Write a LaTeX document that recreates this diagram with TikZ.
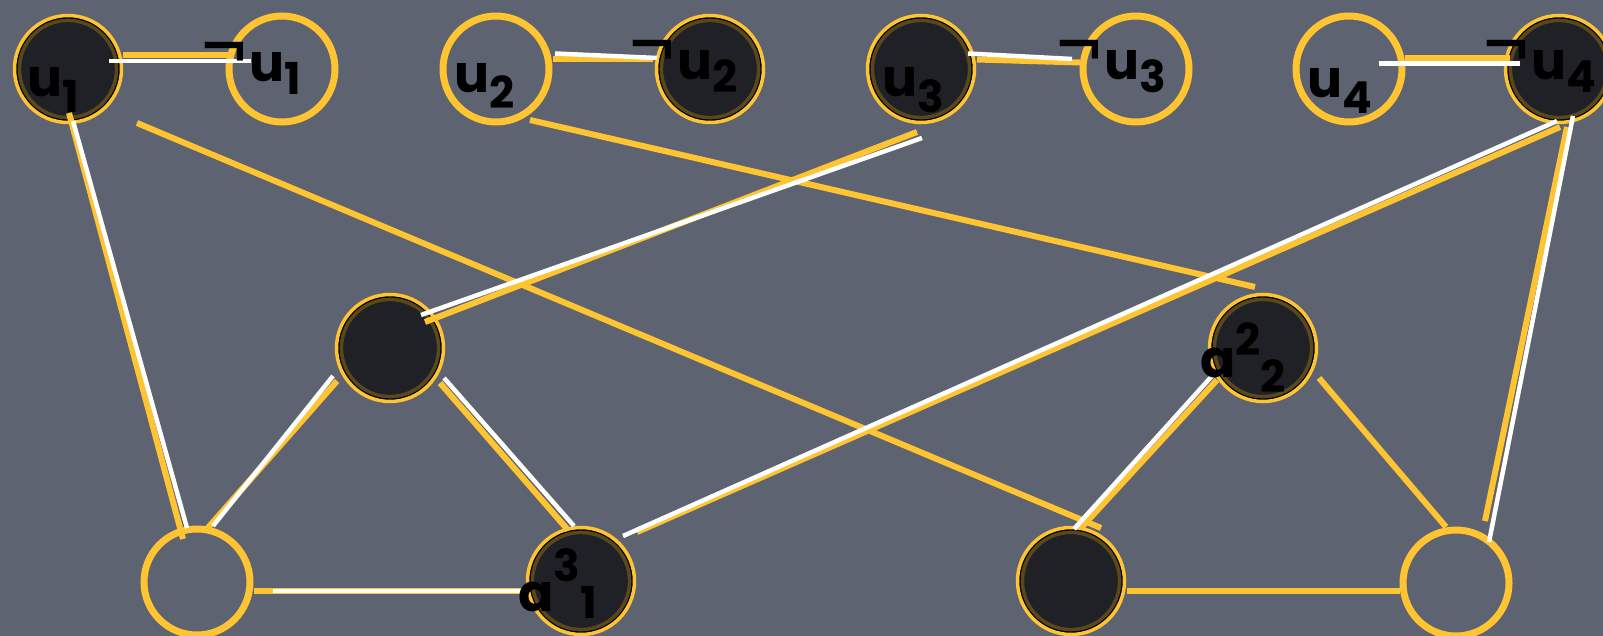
\documentclass[tikz,border=0pt]{standalone}
\usepackage{fontspec}
\setmainfont{Poppins}
\usepackage{tikz}
\usetikzlibrary{calc}
\definecolor{ngSlate}{RGB}{94,99,113}
\definecolor{ngYellow}{RGB}{254,196,50}
\definecolor{ngInk}{RGB}{32,33,38}
\definecolor{ngOlive}{RGB}{88,72,28}
\newcommand{\idxlo}[2][-16pt]{\raisebox{#1}{\fontsize{44}{44}\selectfont #2}}
\newcommand{\idxhi}[2][26pt]{\raisebox{#1}{\fontsize{44}{44}\selectfont #2}}
\newcommand{\negsym}{\raisebox{1pt}{\mdseries\scalebox{1.3}[1.7]{¬}}\kern3pt}

\begin{document}
\begin{tikzpicture}[
    x=1pt, y=-1pt,
    hollow/.style={circle, minimum size=106pt, inner sep=0pt,
                   draw=ngYellow, line width=7pt},
    dark/.style={circle, minimum size=107pt, inner sep=0pt,
                 draw=ngYellow, line width=3.5pt, fill=ngInk,
                 path picture={
                   \draw[black, line width=2pt] (path picture bounding box.center) circle (51.3pt);
                   \draw[ngOlive, line width=3.5pt] (path picture bounding box.center) circle (48.6pt);}},
    ylw/.style={draw=ngYellow, line width=6pt},
    wht/.style={draw=white, line width=4.5pt},
    lab/.style={inner sep=0pt, text=black, font=\fontsize{52}{52}\selectfont\bfseries}
]
\fill[ngSlate] (0,0) rectangle (1603,636);
\useasboundingbox (0,0) rectangle (1603,636);

\foreach \n/\x/\y/\s in {u1/68/69/dark, nu1/282/69/hollow, u2/496/69/hollow,
                         nu2/710/69/dark, u3/921/69/dark, nu3/1136/69/hollow,
                         u4/1349/69/hollow, nu4/1559/69/dark,
                         g1top/390/348/dark, g1left/197/582/hollow, g1right/581/581/dark,
                         g2top/1263/348/dark, g2left/1071/581/dark, g2right/1456/583/hollow} {
   \node[\s] (\n) at (\x,\y) {};
}

\foreach \a/\ax/\ay/\b/\bx/\by in {
  u1/55/-13.5/nu1/-52/-13.5,  u2/57/-9.5/nu2/-57/-9.5,
  u3/56/-9.5/nu3/-56/-6.5,    u4/56/-10.5/nu4/-49/-10.5,
  u1/1/44/g1left/-14/-43,     g1top/-53/33/g1left/9/-52,
  g1top/50/35/g1right/-13/-51, g1left/57/9/g1right/-51/10,
  u1/69/54/g2left/30/-53,     u2/34/51/g2top/-8/-61,
  u3/-4/63/g1top/35/-26,      nu4/1/58/g1right/56/-49,
  nu4/8/58/g2right/29/-62,    g2top/-46/32/g2left/10/-53,
  g2top/56/30/g2right/-10/-56, g2left/56/10/g2right/-56/8}
{
   \draw[ylw] ($(\a)+(\ax,\ay)$) -- ($(\b)+(\bx,\by)$);
}
\foreach \a/\ax/\ay/\b/\bx/\by in {
  u1/41/-8/nu1/-31/-8,        u2/59/-15.5/nu2/-53/-11,
  u3/47/-15.5/nu3/-64/-10,    u4/30/-5.5/nu4/-39/-5.5,
  u1/5/52/g1left/-10/-54,     g1top/-57/28/g1left/16/-56,
  g1top/54/30/g1right/-7/-55, g1left/76/9/g1right/-58/10,
  u3/1/69/g1top/31/-33,       nu4/-2/52/g1right/42/-45,
  nu4/14/47/g2right/33/-41,   g2top/-51/28/g2left/3/-52}
{
   \draw[wht] ($(\a)+(\ax,\ay)$) -- ($(\b)+(\bx,\by)$);
}

\foreach \i/\dx/\dy in {1/-41/28, 2/-42/24, 3/-39/28, 4/-42/29} {
   \node[lab, anchor=base west] (lu\i) at ($(u\i)+(\dx,\dy)$) {u\idxlo{\i}};
}
\foreach \i/\dx/\dy in {1/-80/13, 2/-80/11, 3/-79/11, 4/-75/11} {
   \node[lab, anchor=base west] (lnu\i) at ($(nu\i)+(\dx,\dy)$) {\negsym u\idxlo[-13pt]{\i}};
}
\node[lab, anchor=base west] (la31) at ($(g1right)+(-63,30)$) {a\idxhi[30pt]{3}\idxlo[-7pt]{1}};
\node[lab, anchor=base west] (la22) at ($(g2top)+(-63,29)$) {a\idxhi[22pt]{2}\idxlo[-15pt]{2}};
\end{tikzpicture}
\end{document}
